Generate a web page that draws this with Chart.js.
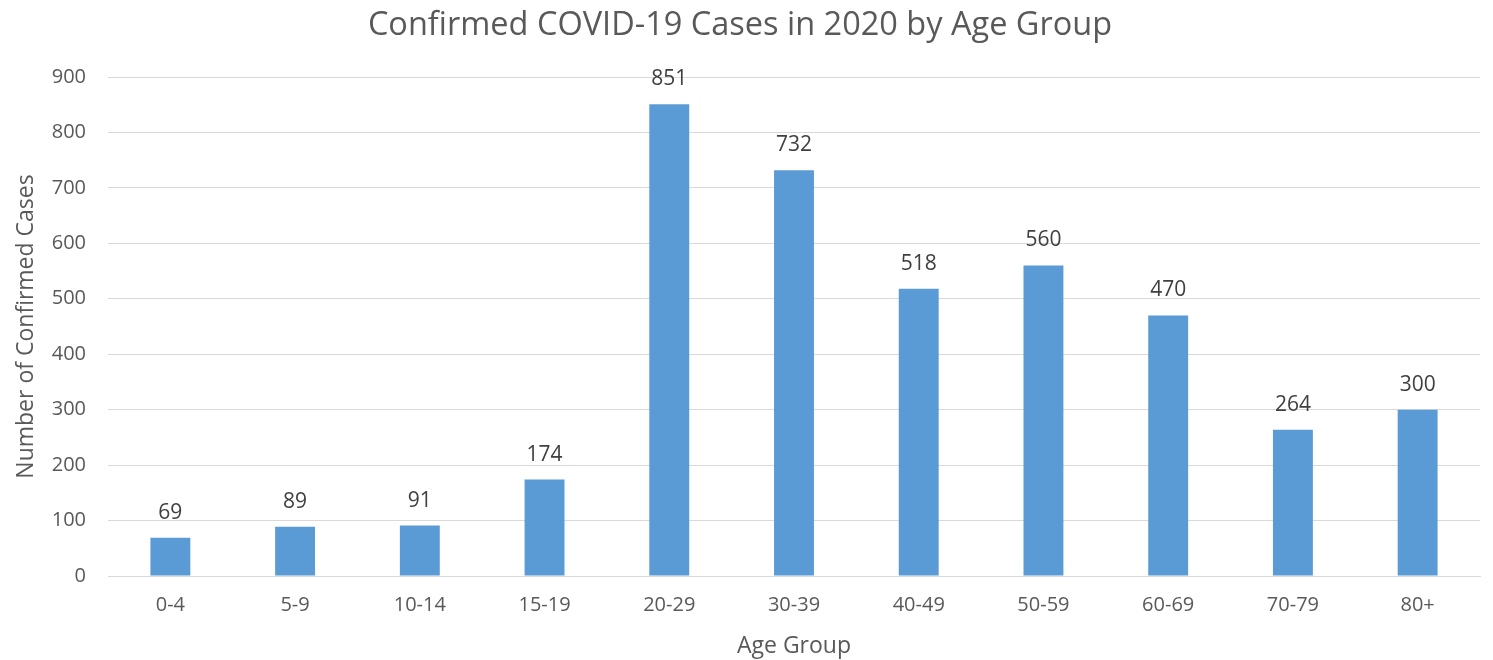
<!DOCTYPE html>
<html>
<head>
<meta charset="utf-8">
<title>Confirmed COVID-19 Cases in 2020 by Age Group</title>
<script src="https://cdn.jsdelivr.net/npm/chart.js@4.4.0/dist/chart.umd.min.js"></script>
<style>
  html, body { margin: 0; padding: 0; background: #fff; }
  canvas { display: block; }
</style>
</head>
<body>
<canvas id="mycanvas" width="1493" height="660"></canvas>
<script>
var ageGroups = ['0-4', '5-9', '10-14', '15-19', '20-29', '30-39', '40-49', '50-59', '60-69', '70-79', '80+'];
var cases = [69, 89, 91, 174, 851, 732, 518, 560, 470, 264, 300];
var yTicks = [0, 100, 200, 300, 400, 500, 600, 700, 800, 900];

var fontFamily = "'Open Sans', sans-serif";
var textColor = '#595959';

// draws the value above each bar
var barLabels = {
	id: 'barLabels',
	afterDatasetsDraw: function(chart) {
		var ctx = chart.ctx;
		var meta = chart.getDatasetMeta(0);
		ctx.save();
		ctx.font = '21px ' + fontFamily;
		ctx.fillStyle = '#404040';
		ctx.textAlign = 'center';
		ctx.textBaseline = 'middle';
		meta.data.forEach(function(bar, i) {
			ctx.fillText(cases[i], bar.x, bar.y - 25);
		});
		ctx.restore();
	}
};

var ctx = document.getElementById('mycanvas');

var barGraph = new Chart(ctx, {
	type: 'bar',
	data: {
		labels: ageGroups,
		datasets: [{
			label: 'Confirmed cases',
			data: cases,
			backgroundColor: '#5b9bd5',
			borderWidth: 0,
			barPercentage: 0.64,
			categoryPercentage: 0.5
		}]
	},
	options: {
		responsive: false,
		animation: false,
		layout: { padding: { left: 0, right: 13, top: 0, bottom: 0 } },
		plugins: {
			legend: { display: false },
			tooltip: { enabled: false },
			title: {
				display: true,
				text: 'Confirmed COVID-19 Cases in 2020 by Age Group',
				color: textColor,
				font: { family: fontFamily, size: 32.5, weight: 'normal', lineHeight: 1.2 },
				padding: { top: 6, bottom: 32 }
			}
		},
		scales: {
			x: {
				grid: { display: false, drawTicks: false },
				border: { display: true, color: '#d9d9d9', width: 1 },
				ticks: { color: textColor, font: { family: fontFamily, size: 20 }, padding: 17 },
				title: {
					display: true,
					text: 'Age Group',
					color: textColor,
					font: { family: fontFamily, size: 23 },
					padding: { top: 0, bottom: 0 }
				},
				afterFit: function(scale) { scale.height = 84; }
			},
			y: {
				min: 0,
				max: 900,
				afterBuildTicks: function(scale) {
					scale.ticks = yTicks.map(function(v) { return { value: v }; });
				},
				grid: { color: '#d9d9d9', lineWidth: 1, drawTicks: false },
				border: { display: false },
				ticks: { color: textColor, font: { family: fontFamily, size: 20 }, padding: 22 },
				title: {
					display: true,
					text: 'Number of Confirmed Cases',
					color: textColor,
					font: { family: fontFamily, size: 23 },
					padding: { top: 13, bottom: 0 }
				},
				afterFit: function(scale) { scale.width = 108; }
			}
		}
	},
	plugins: [barLabels]
});
</script>
</body>
</html>
